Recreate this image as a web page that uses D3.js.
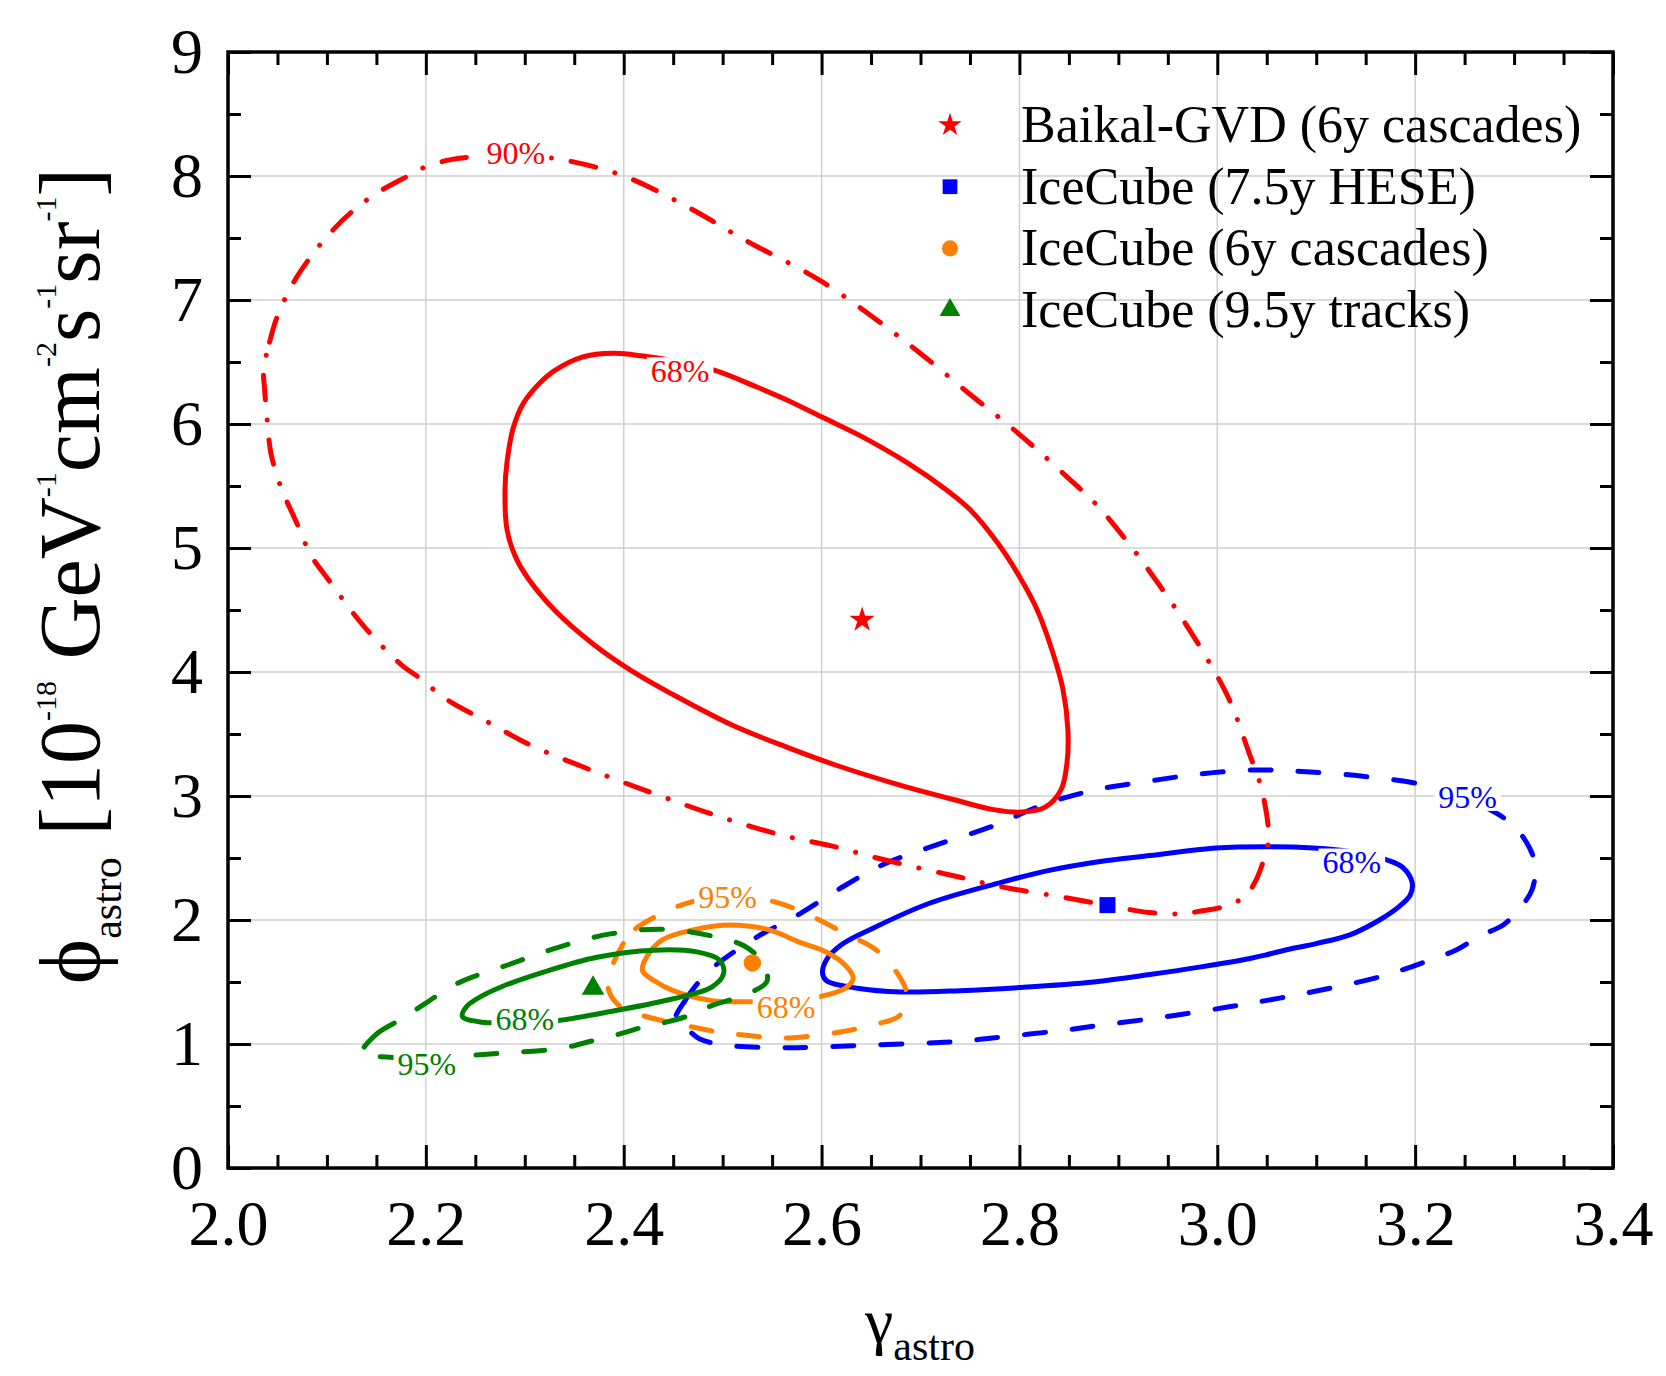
<!DOCTYPE html>
<html>
<head>
<meta charset="utf-8">
<script src="https://cdn.jsdelivr.net/npm/d3@7"></script>
<style>
  html, body { margin: 0; padding: 0; background: #fff; }
  svg { display: block; font-family: "Liberation Serif", "Times New Roman", serif; }
</style>
</head>
<body>
<div id="chart"></div>
<script>
// ---- data: contour points are [gamma, phi] ----
var gvd90 = [[2.036, 6.44], [2.042, 6.66], [2.049, 6.85], [2.064, 7.11], [2.081, 7.32], [2.101, 7.52], [2.125, 7.71],
  [2.150, 7.86], [2.182, 8.00], [2.200, 8.075], [2.224, 8.13], [2.248, 8.155], [2.290, 8.17], [2.339, 8.13], [2.400, 8.00],
  [2.467, 7.74], [2.521, 7.49], [2.600, 7.15], [2.674, 6.73], [2.706, 6.53], [2.750, 6.24], [2.786, 6.01], [2.814, 5.82],
  [2.850, 5.56], [2.879, 5.34], [2.914, 5.00], [2.938, 4.74], [2.963, 4.45], [2.988, 4.13], [3.012, 3.78], [3.032, 3.35],
  [3.045, 3.05], [3.052, 2.67], [3.049, 2.54], [3.039, 2.32], [3.029, 2.20], [3.012, 2.12], [2.982, 2.07], [2.961, 2.05],
  [2.931, 2.06], [2.894, 2.11], [2.847, 2.18], [2.780, 2.27], [2.740, 2.345], [2.698, 2.42], [2.651, 2.51], [2.614, 2.59],
  [2.562, 2.68], [2.498, 2.83], [2.434, 3.01], [2.370, 3.20], [2.306, 3.41], [2.264, 3.59], [2.219, 3.79], [2.194, 3.95],
  [2.175, 4.06], [2.145, 4.30], [2.128, 4.46], [2.101, 4.75], [2.084, 4.94], [2.069, 5.21], [2.054, 5.48], [2.044, 5.74],
  [2.041, 5.90], [2.039, 6.09], [2.037, 6.28]];
var gvd68 = [[2.418, 6.55], [2.390, 6.57], [2.358, 6.54], [2.330, 6.43], [2.314, 6.32], [2.298, 6.16], [2.288, 5.96],
  [2.282, 5.69], [2.280, 5.47], [2.282, 5.15], [2.290, 4.94], [2.302, 4.77], [2.330, 4.50], [2.370, 4.22], [2.406, 4.02],
  [2.454, 3.80], [2.510, 3.57], [2.566, 3.39], [2.614, 3.25], [2.674, 3.10], [2.734, 2.97], [2.774, 2.89], [2.802, 2.87],
  [2.826, 2.91], [2.842, 3.05], [2.848, 3.26], [2.849, 3.53], [2.844, 3.86], [2.834, 4.15], [2.818, 4.50], [2.800, 4.77],
  [2.778, 5.04], [2.750, 5.31], [2.726, 5.47], [2.686, 5.69], [2.638, 5.91], [2.602, 6.05], [2.566, 6.19], [2.534, 6.30],
  [2.493, 6.43], [2.457, 6.50]];
var hese95 = [[2.452, 1.19], [2.462, 1.35], [2.479, 1.53], [2.489, 1.61], [2.532, 1.85], [2.578, 2.05], [2.622, 2.27],
  [2.663, 2.45], [2.714, 2.60], [2.774, 2.76], [2.824, 2.93], [2.877, 3.05], [2.931, 3.12], [2.985, 3.18], [3.039, 3.21],
  [3.090, 3.196], [3.151, 3.156], [3.208, 3.09], [3.254, 2.97], [3.292, 2.81], [3.309, 2.67], [3.321, 2.46], [3.318, 2.24],
  [3.304, 2.08], [3.289, 1.96], [3.265, 1.87], [3.242, 1.76], [3.216, 1.68], [3.168, 1.55], [3.114, 1.45], [3.063, 1.37],
  [3.012, 1.30], [2.948, 1.22], [2.881, 1.15], [2.844, 1.11], [2.780, 1.055], [2.736, 1.02], [2.644, 0.99], [2.566, 0.97],
  [2.504, 0.99], [2.477, 1.04], [2.462, 1.135]];
var hese68 = [[2.601, 1.57], [2.605, 1.68], [2.620, 1.80], [2.651, 1.93], [2.709, 2.135], [2.780, 2.30], [2.830, 2.40],
  [2.880, 2.47], [2.932, 2.52], [2.999, 2.58], [3.050, 2.59], [3.097, 2.58], [3.136, 2.55], [3.173, 2.48], [3.188, 2.42],
  [3.197, 2.30], [3.195, 2.20], [3.184, 2.11], [3.164, 2.00], [3.134, 1.88], [3.100, 1.81], [3.070, 1.76], [3.050, 1.72],
  [3.033, 1.69], [2.982, 1.62], [2.932, 1.56], [2.875, 1.50], [2.800, 1.455], [2.740, 1.43], [2.680, 1.42], [2.636, 1.45],
  [2.605, 1.51]];
var casc95 = [[2.402, 1.84], [2.412, 1.93], [2.443, 2.07], [2.466, 2.14], [2.505, 2.19], [2.551, 2.15], [2.590, 2.03],
  [2.624, 1.89], [2.655, 1.76], [2.679, 1.54], [2.686, 1.40], [2.679, 1.23], [2.655, 1.16], [2.628, 1.11], [2.605, 1.08],
  [2.572, 1.05], [2.551, 1.05], [2.524, 1.07], [2.497, 1.095], [2.462, 1.15], [2.415, 1.24], [2.394, 1.32], [2.384, 1.46],
  [2.388, 1.62]];
var casc68 = [[2.419, 1.59], [2.423, 1.70], [2.439, 1.84], [2.470, 1.92], [2.508, 1.96], [2.547, 1.92], [2.578, 1.82],
  [2.605, 1.74], [2.624, 1.635], [2.632, 1.53], [2.624, 1.45], [2.597, 1.38], [2.560, 1.34], [2.528, 1.34], [2.489, 1.35],
  [2.450, 1.43], [2.431, 1.51]];
var tracks95 = [[2.135, 0.92], [2.150, 1.08], [2.175, 1.20], [2.200, 1.33], [2.232, 1.49], [2.282, 1.635], [2.334, 1.78],
  [2.388, 1.89], [2.441, 1.925], [2.495, 1.86], [2.522, 1.79], [2.538, 1.68], [2.545, 1.51], [2.524, 1.40], [2.489, 1.31],
  [2.470, 1.24], [2.443, 1.176], [2.419, 1.135], [2.396, 1.081], [2.369, 1.027], [2.342, 0.973], [2.315, 0.946],
  [2.288, 0.932], [2.265, 0.919], [2.200, 0.89], [2.160, 0.895]];
var tracks68 = [[2.237, 1.22], [2.241, 1.30], [2.255, 1.38], [2.276, 1.46], [2.319, 1.58], [2.373, 1.70], [2.431, 1.757],
  [2.474, 1.743], [2.497, 1.676], [2.501, 1.568], [2.489, 1.459], [2.450, 1.365], [2.392, 1.27], [2.334, 1.19],
  [2.300, 1.18], [2.257, 1.176]];

// contour label text and where it sits on the curve
var levelNames = ["95%", "68%", "95%", "68%", "95%", "68%", "90%", "68%"];
var levelAt = [[3.253, 2.988], [3.136, 2.468], [2.505, 2.188], [2.564, 1.298], [2.201, 0.84], [2.300, 1.20],
  [2.291, 8.185], [2.457, 6.43]];

// best fit points
var experiments = ["Baikal-GVD (6y cascades)", "IceCube (7.5y HESE)", "IceCube (6y cascades)", "IceCube (9.5y tracks)"];
var bestGamma = [2.641, 2.889, 2.530, 2.369];
var bestPhi = [4.42, 2.12, 1.654, 1.45];

var xTicks = [2.0, 2.2, 2.4, 2.6, 2.8, 3.0, 3.2, 3.4];
var yTicks = [0, 1, 2, 3, 4, 5, 6, 7, 8, 9];

// ---- styles ----
var colors = ["#ff0000", "#0000ff", "#ff7f00", "#008000"];
var symbols = [d3.symbolStar, d3.symbolSquare, d3.symbolCircle, d3.symbolTriangle];
var symbolSize = [200, 256, 240, 220];
var dashes = {solid: null, dashed: "21,27", dashdot: "25,20,0.1,20"};

var contours = [
  {pts: hese95, c: 1, dash: "dashed"},
  {pts: hese68, c: 1, dash: "solid"},
  {pts: casc95, c: 2, dash: "dashed"},
  {pts: casc68, c: 2, dash: "solid"},
  {pts: tracks95, c: 3, dash: "dashed"},
  {pts: tracks68, c: 3, dash: "solid"},
  {pts: gvd90, c: 0, dash: "dashdot"},
  {pts: gvd68, c: 0, dash: "solid"}
];

var W = 1666, H = 1376;
var margin = {top: 52, right: 53, bottom: 208, left: 228};
var width = W - margin.left - margin.right,
    height = H - margin.top - margin.bottom;

var x = d3.scaleLinear().domain([2.0, 3.4]).range([0, width]);
var y = d3.scaleLinear().domain([0, 9]).range([height, 0]);

var svg = d3.select("#chart").append("svg")
    .attr("width", W)
    .attr("height", H);
svg.append("rect").attr("width", W).attr("height", H).attr("fill", "#fff");

var g = svg.append("g")
    .attr("transform", "translate(" + margin.left + "," + margin.top + ")");

// grid
var grid = g.append("g").attr("stroke", "#cfcfcf").attr("stroke-width", 1.5);
grid.selectAll(".vg").data(xTicks).join("line").attr("class", "vg")
    .attr("x1", function(d) { return x(d); }).attr("x2", function(d) { return x(d); })
    .attr("y1", 0).attr("y2", height);
grid.selectAll(".hg").data(yTicks).join("line").attr("class", "hg")
    .attr("x1", 0).attr("x2", width)
    .attr("y1", function(d) { return y(d); }).attr("y2", function(d) { return y(d); });

// contours
var line = d3.line()
    .x(function(d) { return x(d[0]); })
    .y(function(d) { return y(d[1]); })
    .curve(d3.curveCatmullRomClosed.alpha(0.5));

g.append("g").selectAll("path").data(contours).join("path")
    .attr("d", function(d) { return line(d.pts); })
    .attr("fill", "none")
    .attr("stroke", function(d) { return colors[d.c]; })
    .attr("stroke-width", 5)
    .attr("stroke-linecap", "round")
    .attr("stroke-linejoin", "round")
    .attr("stroke-dasharray", function(d) { return dashes[d.dash]; });

// contour level labels, on a white patch that breaks the line
var labelSize = 32;
var labels = g.append("g").selectAll("g").data(contours).join("g")
    .attr("transform", function(d, i) { return "translate(" + x(levelAt[i][0]) + "," + y(levelAt[i][1]) + ")"; });
labels.append("text")
    .attr("text-anchor", "middle")
    .attr("dy", "0.34em")
    .attr("font-size", labelSize)
    .attr("fill", function(d) { return colors[d.c]; })
    .text(function(d, i) { return levelNames[i]; });
labels.each(function() {
  var t = d3.select(this).select("text");
  var w = t.node().getComputedTextLength();
  d3.select(this).insert("rect", "text")
      .attr("x", -w / 2 - 4).attr("y", -labelSize * 0.42)
      .attr("width", w + 8).attr("height", labelSize * 0.84)
      .attr("fill", "#fff");
});

// best fit markers
g.append("g").selectAll("path").data(experiments).join("path")
    .attr("transform", function(d, i) { return "translate(" + x(bestGamma[i]) + "," + y(bestPhi[i]) + ")"; })
    .attr("d", function(d, i) { return d3.symbol(symbols[i], symbolSize[i])(); })
    .attr("fill", function(d, i) { return colors[i]; });

// axes: ticks point inward on all four sides
var xMinor = d3.range(0, 29).map(function(i) { return 2.0 + i * 0.05; })
    .filter(function(v) { return Math.abs(v * 5 - Math.round(v * 5)) > 1e-6; });
var yMinor = d3.range(0, 9).map(function(i) { return i + 0.5; });

function tidy(sel) {
  sel.select(".domain").remove();
  sel.selectAll(".tick line").attr("stroke", "#000").attr("stroke-width", 3);
  sel.attr("font-family", null).attr("font-size", 64);
  sel.selectAll(".tick text").attr("fill", "#000");
}

g.append("g").attr("transform", "translate(0," + height + ")")
    .call(d3.axisBottom(x).tickValues(xTicks).tickSize(-23).tickPadding(32).tickFormat(d3.format(".1f")))
    .call(tidy);
g.append("g").attr("transform", "translate(0," + height + ")")
    .call(d3.axisBottom(x).tickValues(xMinor).tickSize(-13).tickFormat(""))
    .call(tidy);
g.append("g")
    .call(d3.axisTop(x).tickValues(xTicks).tickSize(-23).tickFormat(""))
    .call(tidy);
g.append("g")
    .call(d3.axisTop(x).tickValues(xMinor).tickSize(-13).tickFormat(""))
    .call(tidy);
g.append("g")
    .call(d3.axisLeft(y).tickValues(yTicks).tickSize(-23).tickPadding(25).tickFormat(d3.format("d")))
    .call(tidy);
g.append("g")
    .call(d3.axisLeft(y).tickValues(yMinor).tickSize(-13).tickFormat(""))
    .call(tidy);
g.append("g").attr("transform", "translate(" + width + ",0)")
    .call(d3.axisRight(y).tickValues(yTicks).tickSize(-23).tickFormat(""))
    .call(tidy);
g.append("g").attr("transform", "translate(" + width + ",0)")
    .call(d3.axisRight(y).tickValues(yMinor).tickSize(-13).tickFormat(""))
    .call(tidy);

g.append("rect")
    .attr("width", width).attr("height", height)
    .attr("fill", "none").attr("stroke", "#000").attr("stroke-width", 3.5);

// legend
var legend = svg.append("g").attr("transform", "translate(950,125)");
var item = legend.selectAll("g").data(experiments).join("g")
    .attr("transform", function(d, i) { return "translate(0," + (i * 61.7) + ")"; });
item.append("path")
    .attr("d", function(d, i) { return d3.symbol(symbols[i], symbolSize[i] * 0.85)(); })
    .attr("fill", function(d, i) { return colors[i]; });
item.append("text")
    .attr("x", 71).attr("y", 17)
    .attr("font-size", 52)
    .text(function(d) { return d; });

// axis titles with sub/superscripts
function rich(text, parts) {
  var prev = 0;
  parts.forEach(function(p) {
    text.append("tspan")
        .attr("dy", p[1] - prev)
        .attr("font-size", p[2])
        .text(p[0]);
    prev = p[1];
  });
}

var xTitle = svg.append("text")
    .attr("x", 920).attr("y", 1342)
    .attr("text-anchor", "middle");
rich(xTitle, [["\u03b3", 0, 64], ["astro", 18, 42]]);

var yTitle = svg.append("text")
    .attr("transform", "translate(99,576) rotate(-90)")
    .attr("text-anchor", "middle");
rich(yTitle, [["\u03d5", 0, 86], ["astro", 22, 42], [" [10", 0, 86], ["-18", -43, 30], [" GeV", 0, 86],
  ["-1", -43, 30], ["cm", 0, 86], ["-2", -43, 30], ["s", 0, 86], ["-1", -43, 30], ["sr", 0, 86],
  ["-1", -43, 30], ["]", 0, 86]]);
</script>
</body>
</html>
